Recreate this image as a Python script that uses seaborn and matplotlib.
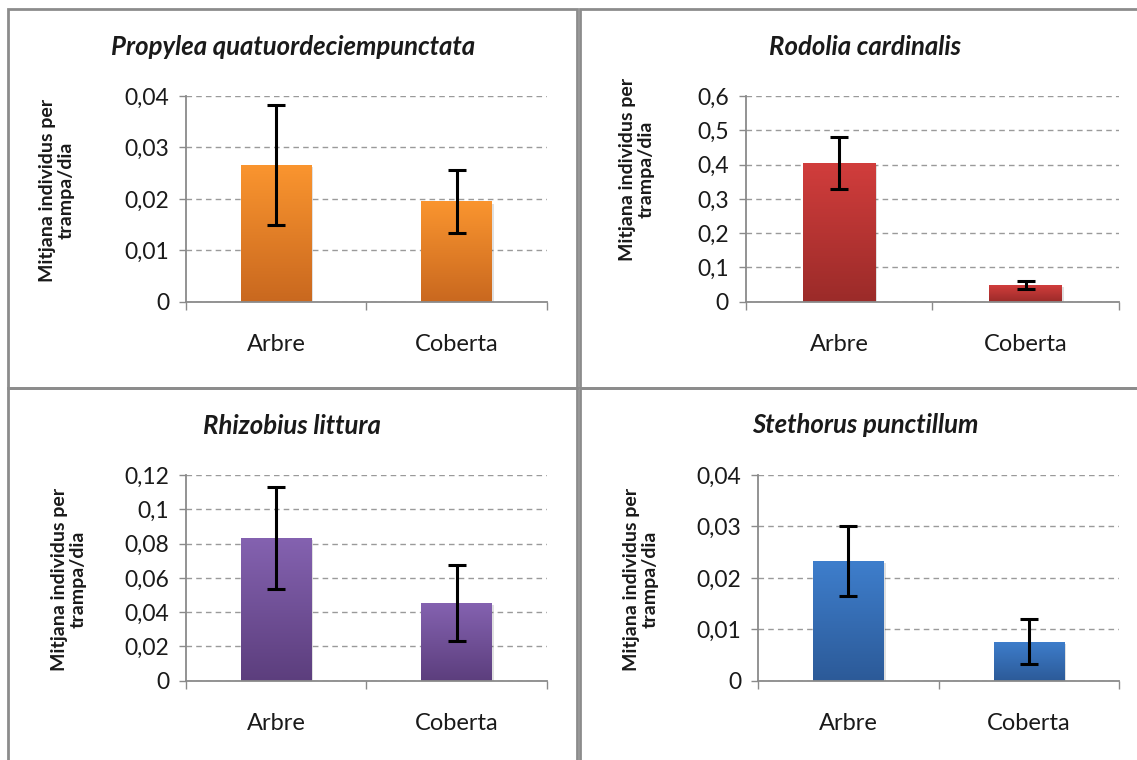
import numpy as np
import pandas as pd
import matplotlib
matplotlib.use("Agg")
import matplotlib.pyplot as plt
import seaborn as sns
from matplotlib.patches import Rectangle
from matplotlib.colors import LinearSegmentedColormap
import matplotlib.patheffects as pe
from matplotlib.ticker import FixedLocator, FuncFormatter

# ---------------- data ----------------
categories = ["Arbre", "Coberta"]
ylabel_text = "Mitjana individus per\ntrampa/dia"

title_propylea = "Propylea quatuordeciempunctata"
means_propylea = [0.0266, 0.0195]
se_propylea = [0.0116, 0.0062]
yticks_propylea = [0, 0.01, 0.02, 0.03, 0.04]

title_rodolia = "Rodolia cardinalis"
means_rodolia = [0.405, 0.049]
se_rodolia = [0.076, 0.0125]
yticks_rodolia = [0, 0.1, 0.2, 0.3, 0.4, 0.5, 0.6]

title_rhizobius = "Rhizobius littura"
means_rhizobius = [0.0834, 0.0451]
se_rhizobius = [0.0297, 0.0222]
yticks_rhizobius = [0, 0.02, 0.04, 0.06, 0.08, 0.1, 0.12]

title_stethorus = "Stethorus punctillum"
means_stethorus = [0.0233, 0.0076]
se_stethorus = [0.0068, 0.0044]
yticks_stethorus = [0, 0.01, 0.02, 0.03, 0.04]

# ---------------- style ----------------
sns.set_theme(style="white")
plt.rcParams['font.family'] = ['Lato', 'DejaVu Sans']

W, H = 1137, 760
fig = plt.figure(figsize=(W / 100, H / 100), dpi=100)
fig.patch.set_facecolor("white")

GRAY = "#8a8a8a"
TXT = "#1a1a1a"

panels = [
    dict(title=title_propylea, means=means_propylea, se=se_propylea, yticks=yticks_propylea,
         colors=("#c9681f", "#fa952f"), box=(185.7, 96, 546.8, 301.7),
         title_xy=(293, 47), ylab_xy=(57, 190)),
    dict(title=title_rodolia, means=means_rodolia, se=se_rodolia, yticks=yticks_rodolia,
         colors=("#9b2b29", "#d13d3c"), box=(745.6, 96, 1119, 301.7),
         title_xy=(865, 47), ylab_xy=(637, 169)),
    dict(title=title_rhizobius, means=means_rhizobius, se=se_rhizobius, yticks=yticks_rhizobius,
         colors=("#5c3e7d", "#8462b0"), box=(185.7, 475, 546.8, 680.7),
         title_xy=(292, 426), ylab_xy=(69, 579)),
    dict(title=title_stethorus, means=means_stethorus, se=se_stethorus, yticks=yticks_stethorus,
         colors=("#2c5a98", "#3e7ecc"), box=(758, 475, 1119, 680.7),
         title_xy=(865, 425), ylab_xy=(641, 579)),
]

def fmt(v, pos=None):
    return f"{round(v, 6):g}".replace(".", ",")

grad = np.linspace(0, 1, 256).reshape(-1, 1)

for p in panels:
    l, t, r, b = p["box"]
    ax = fig.add_axes([l / W, 1 - b / H, (r - l) / W, (b - t) / H])
    df = pd.DataFrame({"cat": categories, "val": p["means"]})
    sns.barplot(data=df, x="cat", y="val", ax=ax, width=0.39, color=p["colors"][1],
                saturation=1, errorbar=None, zorder=2)
    cmap = LinearSegmentedColormap.from_list("g", list(p["colors"]))
    xs = []
    for patch in ax.patches:
        x0, y0 = patch.get_x(), patch.get_y()
        w, h = patch.get_width(), patch.get_height()
        xs.append(x0 + w / 2)
        patch.set_edgecolor("none")
        patch.set_path_effects([pe.SimplePatchShadow(offset=(1.5, -1.5), shadow_rgbFace="#000000", alpha=0.12),
                                pe.Normal()])
        im = ax.imshow(grad, extent=[x0, x0 + w, y0, y0 + h], aspect="auto", cmap=cmap,
                       origin="lower", zorder=3, interpolation="bilinear")
        im.set_clip_path(patch)
    ax.errorbar(xs, p["means"], yerr=p["se"], fmt="none", ecolor="black",
                elinewidth=2.2, capsize=6.5, capthick=2.2, zorder=5)

    ax.set_xlim(-0.5, 1.5)
    ax.set_ylim(p["yticks"][0], p["yticks"][-1])
    ax.set_aspect("auto")
    ax.set_xlabel("")
    ax.set_ylabel("")

    ax.yaxis.set_major_locator(FixedLocator(p["yticks"]))
    ax.yaxis.set_major_formatter(FuncFormatter(fmt))
    ax.set_axisbelow(True)
    ax.yaxis.grid(True, linestyle=(0, (4, 3)), color="#9a9a9a", linewidth=1.0)
    ax.xaxis.grid(False)

    for s in ("top", "right"):
        ax.spines[s].set_visible(False)
    for s in ("left", "bottom"):
        ax.spines[s].set_color(GRAY)
        ax.spines[s].set_linewidth(1.3)
        ax.spines[s].set_zorder(6)

    ax.tick_params(axis="y", which="major", length=5, width=1, color=GRAY, left=True,
                   direction="out", pad=7, labelsize=16.5, labelcolor=TXT)
    ax.set_xticks([0, 1])
    ax.set_xticklabels(categories)
    ax.set_xticks([-0.5, 0.5, 1.5], minor=True)
    ax.tick_params(axis="x", which="major", length=0, pad=23, labelsize=17, labelcolor=TXT)
    ax.tick_params(axis="x", which="minor", length=6, width=1, color=GRAY, bottom=True,
                   direction="out")

    fig.text(p["title_xy"][0] / W, 1 - p["title_xy"][1] / H, p["title"], ha="center", va="center",
             fontsize=18.5, fontweight="bold", fontstyle="italic", color=TXT)
    fig.text(p["ylab_xy"][0] / W, 1 - p["ylab_xy"][1] / H, ylabel_text, ha="center", va="center",
             rotation=90, fontsize=14, fontweight="bold", color=TXT, linespacing=1.15,
             multialignment="center")

# panel frames
frames = [(8, 9, 577, 388), (580, 9, 1145, 388), (8, 388, 577, 775), (580, 388, 1145, 775)]
for (x0, y0, x1, y1) in frames:
    fig.patches.append(Rectangle((x0 / W, 1 - y1 / H), (x1 - x0) / W, (y1 - y0) / H,
                                 transform=fig.transFigure, fill=False, edgecolor="#8c8c8c",
                                 linewidth=2, zorder=0))

fig.savefig("out.png", dpi=100)
